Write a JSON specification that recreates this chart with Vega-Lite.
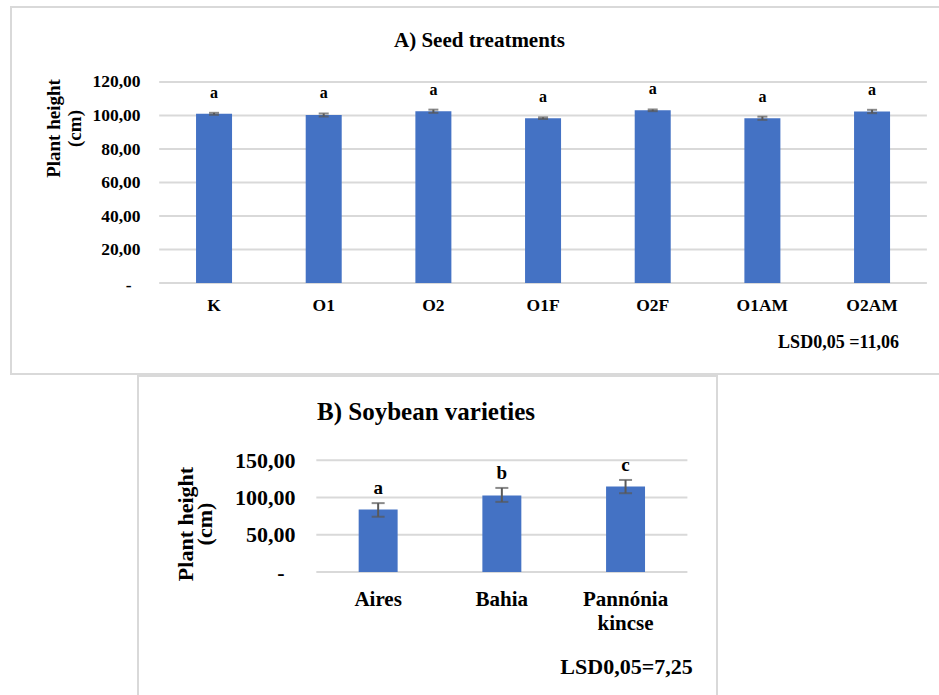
{
  "$schema": "https://vega.github.io/schema/vega-lite/v6.json",
  "padding": {"left": 10, "top": 6, "right": 0, "bottom": 0},
  "bounds": "flush",
  "spacing": 2,
  "config": {
    "view": {"stroke": "#d9d9d9", "strokeWidth": 2},
    "font": "Liberation Serif",
    "axis": {"labelFont": "Liberation Serif", "titleFont": "Liberation Serif", "labelFontWeight": "bold", "titleFontWeight": "bold", "labelColor": "#000000", "titleColor": "#000000", "labelOverlap": false, "domain": false, "ticks": false, "grid": false},
    "title": {"font": "Liberation Serif", "fontWeight": "bold", "color": "#000000"}
  },
  "vconcat": [
    {
      "width": 929,
      "height": 367,
      "title": {"text": "A) Seed treatments", "fontSize": 21, "offset": -55, "baseline": "middle", "anchor": "middle", "dx": 4},
      "data": {"values": [
        {"cat": "K", "value": 101.0, "lo": 100.4, "hi": 101.6, "letter": "a"},
        {"cat": "O1", "value": 100.3, "lo": 99.4, "hi": 101.2, "letter": "a"},
        {"cat": "O2", "value": 102.5, "lo": 101.6, "hi": 103.5, "letter": "a"},
        {"cat": "O1F", "value": 98.4, "lo": 97.9, "hi": 98.9, "letter": "a"},
        {"cat": "O2F", "value": 103.1, "lo": 102.6, "hi": 103.6, "letter": "a"},
        {"cat": "O1AM", "value": 98.3, "lo": 97.4, "hi": 99.3, "letter": "a"},
        {"cat": "O2AM", "value": 102.4, "lo": 101.4, "hi": 103.4, "letter": "a"}
      ]},
      "encoding": {
        "x": {"field": "cat", "type": "nominal",
          "scale": {"domain": ["K", "O1", "O2", "O1F", "O2F", "O1AM", "O2AM"], "range": [148.2, 915.9], "paddingInner": 0.6717, "paddingOuter": 0.3359, "round": false},
          "axis": {"orient": "bottom", "offset": -91, "labelAngle": 0, "labelPadding": 13, "labelFontSize": 17.5,
            "title": "LSD0,05 =11,06", "titleX": 827, "titleY": 59, "titleAlign": "center", "titleBaseline": "middle", "titleFontSize": 18}}
      },
      "layer": [
        {
          "data": {"values": [{"g": 0}, {"g": 20}, {"g": 40}, {"g": 60}, {"g": 80}, {"g": 100}, {"g": 120}]},
          "mark": {"type": "rule", "color": "#d9d9d9", "strokeWidth": 2},
          "encoding": {
            "x": {"datum": "K", "type": "nominal", "bandPosition": -1.023},
            "x2": {"datum": "O2AM", "bandPosition": 2.023},
            "y": {"field": "g", "type": "quantitative"}
          }
        },
        {
          "mark": {"type": "bar", "color": "#4472C4"},
          "encoding": {
            "y": {"field": "value", "type": "quantitative",
              "scale": {"domain": [-54.328, 164.776], "nice": false, "zero": false},
              "axis": {"orient": "left", "offset": -148, "values": [0, 20, 40, 60, 80, 100, 120],
                "labelExpr": "datum.value == 0 ? '-' : replace(format(datum.value, '.2f'), '.', ',')",
                "labelPadding": {"condition": {"test": "datum.value == 0", "value": 28}, "value": 19},
                "labelOffset": {"condition": {"test": "datum.value == 0", "value": 2}, "value": 0},
                "labelFontSize": 17.5,
                "title": ["Plant height", "(cm)"], "titleAngle": -90, "titleX": -105.5, "titleY": 121,
                "titleAlign": "center", "titleBaseline": "middle", "titleLineHeight": 20.5, "titleFontSize": 19}}
          }
        },
        {
          "mark": {"type": "rule", "color": "#595959", "strokeWidth": 2},
          "encoding": {"y": {"field": "lo", "type": "quantitative"}, "y2": {"field": "hi"}}
        },
        {
          "mark": {"type": "tick", "orient": "horizontal", "color": "#595959", "size": 10, "thickness": 2},
          "encoding": {"y": {"field": "lo", "type": "quantitative"}}
        },
        {
          "mark": {"type": "tick", "orient": "horizontal", "color": "#595959", "size": 10, "thickness": 2},
          "encoding": {"y": {"field": "hi", "type": "quantitative"}}
        },
        {
          "mark": {"type": "text", "baseline": "alphabetic", "dy": -15, "fontSize": 16, "fontWeight": "bold", "font": "Liberation Serif", "color": "#000000"},
          "encoding": {"y": {"field": "hi", "type": "quantitative"}, "text": {"field": "letter"}}
        }
      ]
    },
    {
      "bounds": "flush",
      "spacing": 0,
      "hconcat": [
        {
          "width": 127,
          "height": 10,
          "view": {"stroke": null},
          "data": {"values": []},
          "mark": "point"
        },
        {
          "width": 579,
          "height": 321,
          "title": {"text": "B) Soybean varieties", "fontSize": 25, "offset": -61, "baseline": "middle", "anchor": "middle", "dx": -1.5},
          "data": {"values": [
            {"cat": "Aires", "value": 84.0, "lo": 74.2, "hi": 92.5, "letter": "a"},
            {"cat": "Bahia", "value": 102.7, "lo": 94.2, "hi": 112.9, "letter": "b"},
            {"cat": "Pannónia kincse", "value": 114.7, "lo": 105.8, "hi": 123.6, "letter": "c"}
          ]},
          "encoding": {
            "x": {"field": "cat", "type": "nominal",
              "scale": {"domain": ["Aires", "Bahia", "Pannónia kincse"], "range": [178.3, 549.4], "paddingInner": 0.685, "paddingOuter": 0.3425, "round": false},
              "axis": {"orient": "bottom", "offset": -125, "labelAngle": 0, "labelPadding": 16, "labelFontSize": 21,
                "labelExpr": "datum.label == 'Pannónia kincse' ? ['Pannónia', 'kincse'] : datum.label", "labelLineHeight": 24,
                "title": "LSD0,05=7,25", "titleX": 488, "titleY": 94, "titleAlign": "center", "titleBaseline": "middle", "titleFontSize": 22}}
          },
          "layer": [
            {
              "data": {"values": [{"g": 0}, {"g": 50}, {"g": 100}, {"g": 150}]},
              "mark": {"type": "rule", "color": "#d9d9d9", "strokeWidth": 2},
              "encoding": {
                "x": {"datum": "Aires", "type": "nominal", "bandPosition": -1.087},
                "x2": {"datum": "Pannónia kincse", "bandPosition": 2.087},
                "y": {"field": "g", "type": "quantitative"}
              }
            },
            {
              "mark": {"type": "bar", "color": "#4472C4"},
              "encoding": {
                "y": {"field": "value", "type": "quantitative",
                  "scale": {"domain": [-167.85, 263.2], "nice": false, "zero": false},
                  "axis": {"orient": "left", "offset": -178, "values": [0, 50, 100, 150],
                    "labelExpr": "datum.value == 0 ? '-' : replace(format(datum.value, '.2f'), '.', ',')",
                    "labelPadding": {"condition": {"test": "datum.value == 0", "value": 32}, "value": 21},
                    "labelFontSize": 22,
                    "title": ["Plant height", "(cm)"], "titleAngle": -90, "titleX": -130.5, "titleY": 147.5,
                    "titleAlign": "center", "titleBaseline": "middle", "titleLineHeight": 19, "titleFontSize": 22}}
              }
            },
            {
              "mark": {"type": "rule", "color": "#595959", "strokeWidth": 2},
              "encoding": {"y": {"field": "lo", "type": "quantitative"}, "y2": {"field": "hi"}}
            },
            {
              "mark": {"type": "tick", "orient": "horizontal", "color": "#595959", "size": 13, "thickness": 2},
              "encoding": {"y": {"field": "lo", "type": "quantitative"}}
            },
            {
              "mark": {"type": "tick", "orient": "horizontal", "color": "#595959", "size": 13, "thickness": 2},
              "encoding": {"y": {"field": "hi", "type": "quantitative"}}
            },
            {
              "mark": {"type": "text", "baseline": "alphabetic", "dy": -9, "fontSize": 19, "fontWeight": "bold", "font": "Liberation Serif", "color": "#000000"},
              "encoding": {"y": {"field": "hi", "type": "quantitative"}, "text": {"field": "letter"}}
            }
          ]
        }
      ]
    }
  ]
}
